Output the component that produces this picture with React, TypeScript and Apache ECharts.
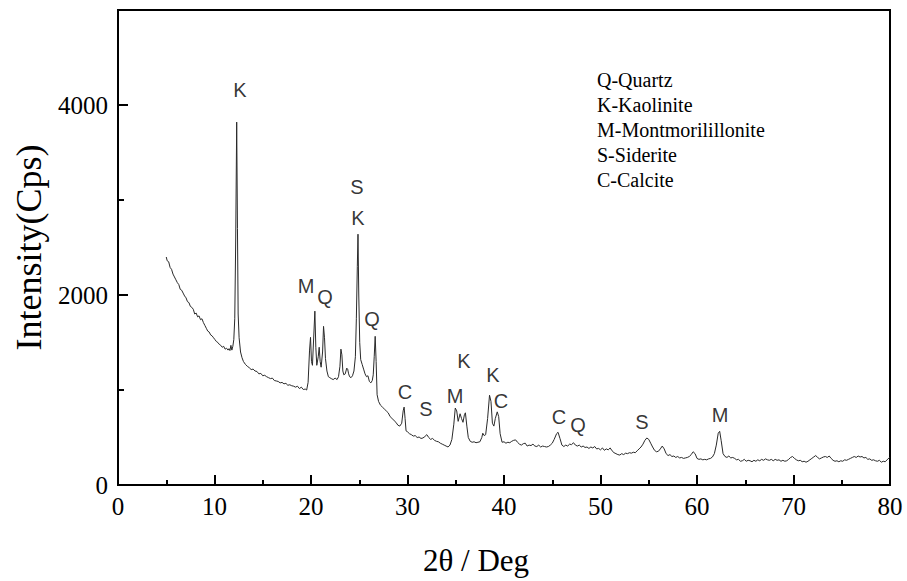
import React, { useEffect, useRef } from "react";
import * as echarts from "echarts";

const twoTheta: number[] = [5.0,5.1,5.25,5.4,5.55,5.7,5.85,6.0,6.15,6.3,6.45,6.6,6.75,6.9,7.05,7.2,7.35,7.5,7.65,7.8,7.95,8.1,8.25,8.4,8.55,8.7,8.85,9.0,9.15,9.3,9.45,9.6,9.75,9.9,10.05,10.2,10.35,10.5,10.65,10.8,10.95,11.1,11.25,11.4,11.5,11.6,11.7,11.8,11.9,12.0,12.1,12.2,12.3,12.38,12.45,12.55,12.7,12.85,13.0,13.2,13.4,13.6,13.8,14.0,14.2,14.4,14.6,14.8,15.0,15.2,15.4,15.6,15.8,16.0,16.2,16.4,16.6,16.8,17.0,17.2,17.4,17.6,17.8,18.0,18.2,18.4,18.6,18.8,19.0,19.2,19.4,19.55,19.7,19.85,19.95,20.05,20.15,20.3,20.4,20.5,20.6,20.75,20.85,20.95,21.05,21.2,21.3,21.4,21.5,21.65,21.8,21.95,22.1,22.3,22.5,22.7,22.85,23.0,23.1,23.2,23.3,23.4,23.55,23.7,23.8,23.9,24.0,24.15,24.3,24.45,24.6,24.7,24.8,24.87,24.95,25.05,25.15,25.3,25.45,25.6,25.75,25.9,26.05,26.2,26.35,26.45,26.55,26.65,26.75,26.85,27.0,27.2,27.4,27.6,27.8,28.0,28.2,28.4,28.6,28.8,29.0,29.2,29.4,29.55,29.65,29.75,29.85,30.0,30.2,30.4,30.6,30.8,31.0,31.2,31.4,31.6,31.8,32.0,32.2,32.4,32.6,32.8,33.0,33.2,33.4,33.6,33.8,34.0,34.2,34.4,34.6,34.8,34.95,35.1,35.25,35.45,35.6,35.75,35.9,36.0,36.15,36.3,36.5,36.7,36.9,37.1,37.3,37.5,37.7,37.8,37.95,38.1,38.3,38.5,38.65,38.8,38.95,39.1,39.3,39.45,39.6,39.8,40.0,40.2,40.4,40.6,40.8,41.0,41.2,41.4,41.6,41.8,42.0,42.2,42.4,42.6,42.8,43.0,43.2,43.4,43.6,43.8,44.0,44.2,44.4,44.6,44.8,45.0,45.2,45.45,45.6,45.8,46.0,46.2,46.4,46.6,46.8,47.0,47.2,47.4,47.6,47.8,48.0,48.2,48.4,48.6,48.8,49.0,49.2,49.4,49.6,49.8,50.0,50.2,50.4,50.6,50.8,51.0,51.2,51.4,51.6,51.8,52.0,52.2,52.4,52.6,52.8,53.0,53.2,53.4,53.6,53.8,54.0,54.2,54.4,54.6,54.8,55.0,55.2,55.4,55.6,55.8,56.0,56.2,56.4,56.6,56.8,57.0,57.2,57.4,57.6,57.8,58.0,58.2,58.4,58.6,58.8,59.0,59.2,59.4,59.6,59.8,60.0,60.2,60.4,60.6,60.8,61.0,61.2,61.4,61.6,61.8,62.0,62.2,62.35,62.5,62.7,62.9,63.1,63.3,63.5,63.7,63.9,64.1,64.3,64.5,64.7,64.9,65.1,65.3,65.5,65.7,65.9,66.1,66.3,66.5,66.7,66.9,67.1,67.3,67.5,67.7,67.9,68.1,68.3,68.5,68.7,68.9,69.1,69.3,69.5,69.7,69.9,70.1,70.3,70.5,70.7,70.9,71.1,71.3,71.5,71.7,71.9,72.1,72.3,72.5,72.7,72.9,73.1,73.3,73.5,73.7,73.9,74.1,74.3,74.5,74.7,74.9,75.1,75.3,75.5,75.7,75.9,76.1,76.3,76.5,76.7,76.9,77.1,77.3,77.5,77.7,77.9,78.1,78.3,78.5,78.7,78.9,79.1,79.3,79.5,79.7,79.9,80.0];

const intensity: number[] = [2400,2360,2350,2290,2270,2220,2190,2160,2130,2110,2060,2050,2020,1990,1970,1930,1920,1880,1870,1850,1800,1810,1770,1780,1740,1750,1710,1680,1650,1620,1610,1580,1570,1550,1530,1510,1500,1480,1470,1450,1460,1430,1440,1420,1435,1415,1470,1420,1460,1530,1750,2600,3820,2700,1800,1550,1400,1340,1300,1270,1250,1235,1215,1220,1200,1195,1170,1175,1150,1155,1140,1130,1120,1125,1100,1095,1090,1075,1080,1065,1070,1050,1055,1045,1040,1030,1040,1015,1030,1005,1010,1000,1080,1420,1554,1300,1260,1600,1830,1450,1260,1350,1450,1300,1240,1400,1670,1550,1330,1200,1140,1130,1120,1110,1125,1110,1140,1250,1430,1370,1200,1160,1170,1230,1220,1170,1140,1130,1150,1200,1350,1750,2300,2640,2000,1500,1320,1270,1220,1170,1140,1150,1090,1075,1100,1160,1350,1565,1300,950,880,840,820,800,780,760,720,700,680,660,630,620,650,780,820,700,570,560,540,530,515,520,500,505,490,495,510,530,500,480,490,470,460,455,440,430,420,410,400,420,480,640,810,780,670,750,700,660,740,760,620,500,460,450,455,445,450,455,500,545,520,530,700,945,880,650,620,700,770,720,540,450,455,440,450,445,460,470,475,450,430,420,435,440,410,420,415,430,410,405,420,400,410,405,400,405,420,440,480,540,555,490,420,405,420,410,430,425,445,420,410,420,400,410,395,400,385,400,390,405,380,385,370,390,365,380,370,390,360,340,330,320,315,330,320,335,330,340,335,345,340,360,380,400,430,470,495,480,440,400,365,350,355,380,410,380,330,310,320,300,305,290,300,285,290,280,285,290,300,320,350,330,280,270,275,265,270,265,275,280,295,330,420,545,565,470,330,300,290,305,285,290,280,265,270,250,255,270,250,260,255,245,260,250,265,255,270,260,275,265,260,270,255,270,260,265,250,260,250,255,270,290,300,280,265,255,260,245,250,240,250,265,280,295,310,290,275,285,295,300,290,305,280,260,250,255,245,255,250,265,260,270,280,290,300,290,305,295,300,285,290,270,275,260,265,255,250,260,240,250,245,265,285,290];

const peakLabelText: string[] = ["K","S","K","M","Q","Q","C","S","M","K","K","C","C","Q","S","M"];
const peakLabelX: number[] = [12.64,24.77,24.87,19.48,21.45,26.32,29.74,31.92,34.92,35.85,38.86,39.69,45.70,47.67,54.30,62.38];
const peakLabelY: number[] = [4157,3139,2814,2100,1984,1743,976,798,934,1302,1155,882,714,630,661,735];

const legendLines: string[] = ["Q-Quartz","K-Kaolinite","M-Montmorilillonite","S-Siderite","C-Calcite"];

const xTicks = { min: 0, max: 80, interval: 10 };
const yTicks = { min: 0, max: 5000, interval: 1000, labelInterval: 2000 };

export default function App() {
  const ref = useRef<HTMLDivElement>(null);
  useEffect(() => {
    if (!ref.current) return;
    const chart = echarts.init(ref.current, undefined, { renderer: "svg" });
    const serif = '"Liberation Serif", "Times New Roman", serif';
    const sans = '"Liberation Sans", Arial, sans-serif';
    const lineData = twoTheta.map((x, i) => [x, intensity[i]]);
    const labelData = peakLabelText.map((t, i) => [peakLabelX[i], peakLabelY[i], t]);
    chart.setOption({
      animation: false,
      backgroundColor: "#fff",
      grid: { left: 118, right: 17, top: 10, bottom: 95, show: true, borderColor: "#000", borderWidth: 2, backgroundColor: "transparent" },
      xAxis: {
        type: "value",
        min: xTicks.min,
        max: xTicks.max,
        interval: xTicks.interval,
        name: "2θ / Deg",
        nameLocation: "middle",
        nameGap: 60,
        nameTextStyle: { fontFamily: serif, fontSize: 31, color: "#000", padding: [0, 56, 0, 0] },
        axisLine: { show: true, lineStyle: { color: "#000", width: 2 } },
        axisTick: { show: true, inside: true, length: 10, lineStyle: { color: "#000", width: 2 } },
        minorTick: { show: true, splitNumber: 2, length: 5, lineStyle: { color: "#000", width: 2 } },
        axisLabel: { fontFamily: serif, fontSize: 25, color: "#000", margin: 9 },
        splitLine: { show: false },
      },
      yAxis: [
        {
          type: "value",
          min: yTicks.min,
          max: yTicks.max,
          interval: yTicks.interval,
          axisLine: { show: true, lineStyle: { color: "#000", width: 2 } },
          axisTick: { show: true, inside: true, length: 6, lineStyle: { color: "#000", width: 2 } },
          axisLabel: { show: false },
          splitLine: { show: false },
        },
        {
          type: "value",
          position: "left",
          min: yTicks.min,
          max: yTicks.max,
          interval: yTicks.labelInterval,
          name: "Intensity(Cps)",
          nameLocation: "middle",
          nameGap: 70,
          nameTextStyle: { fontFamily: serif, fontSize: 36, color: "#000" },
          axisLine: { show: false },
          axisTick: { show: true, inside: true, length: 10, lineStyle: { color: "#000", width: 2 } },
          axisLabel: {
            fontFamily: serif,
            fontSize: 25,
            color: "#000",
            margin: 10,
            formatter: (v: number) => (v % yTicks.labelInterval === 0 && v < yTicks.max ? String(v) : ""),
          },
          splitLine: { show: false },
        },
      ],
      series: [
        {
          type: "line",
          data: lineData,
          yAxisIndex: 0,
          showSymbol: false,
          symbol: "none",
          lineStyle: { color: "#2a2a2a", width: 1 },
          z: 3,
        },
        {
          type: "scatter",
          data: labelData,
          yAxisIndex: 0,
          symbolSize: 1,
          itemStyle: { color: "rgba(0,0,0,0)" },
          label: {
            show: true,
            position: "inside",
            formatter: (p: any) => p.value[2],
            fontFamily: sans,
            fontSize: 20,
            color: "#000",
          },
          z: 4,
        },
      ],
      graphic: [
        {
          type: "text",
          left: 597,
          top: 67,
          style: {
            text: legendLines.join("\n"),
            font: `20px ${serif}`,
            lineHeight: 25,
            fill: "#000",
          },
        },
      ],
    });
    return () => chart.dispose();
  }, []);
  return <div ref={ref} style={{ width: 907, height: 581, position: "absolute", left: 0, top: 0 }} />;
}
